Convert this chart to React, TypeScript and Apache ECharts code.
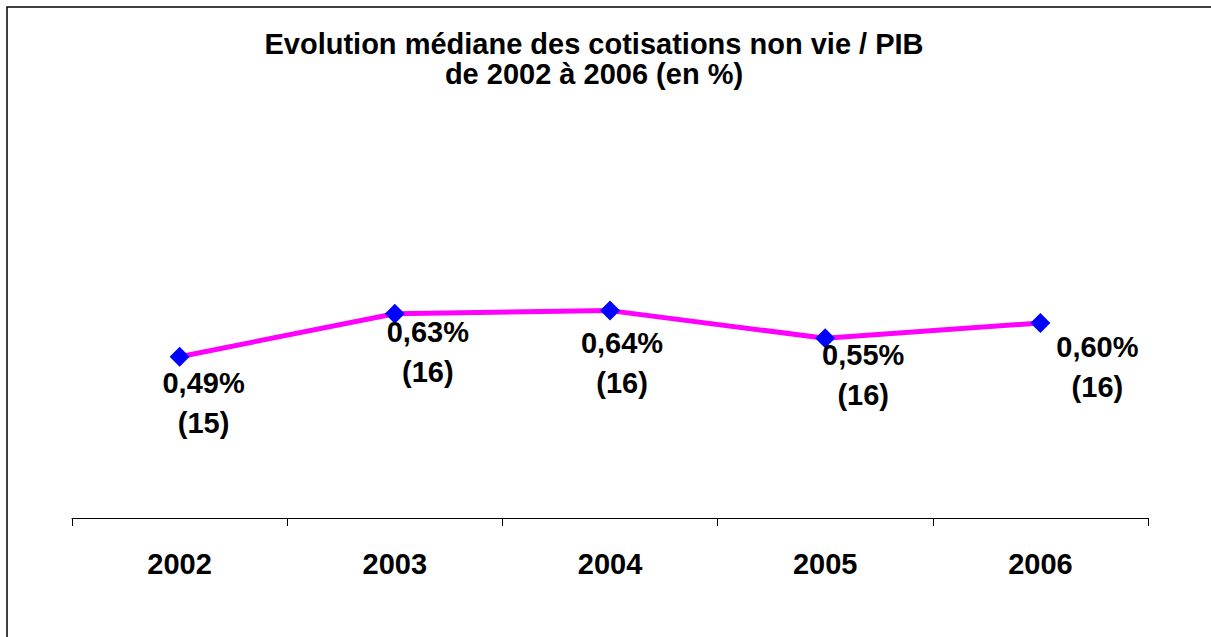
import React, { useEffect, useRef } from "react";
import * as echarts from "echarts";

const titleLines = ["Evolution médiane des cotisations non vie / PIB", "de 2002 à 2006 (en %)"];
const years = ["2002", "2003", "2004", "2005", "2006"];
const values = [0.49, 0.63, 0.64, 0.55, 0.6];
const counts = [15, 16, 16, 16, 16];
const labelOffsets = [
  [24, 46],
  [33, 38],
  [12, 52],
  [38, 37],
  [57, 44],
];

const FONT = "'Liberation Sans', Arial, Helvetica, sans-serif";

export default function App() {
  const ref = useRef<HTMLDivElement>(null);
  useEffect(() => {
    if (!ref.current) return;
    const chart = echarts.init(ref.current, null, { renderer: "svg" });
    chart.setOption({
      animation: false,
      backgroundColor: "#ffffff",
      title: {
        text: titleLines.join("\n"),
        left: 589,
        top: 24,
        textAlign: "center",
        textStyle: {
          fontFamily: FONT,
          fontWeight: "bold",
          fontSize: 29,
          lineHeight: 30,
          color: "#000",
        },
      },
      graphic: [
        {
          type: "rect",
          shape: { x: 7, y: 7, width: 1300, height: 700 },
          style: { fill: "none", stroke: "#000", lineWidth: 1.5 },
          silent: true,
        },
      ],
      grid: { left: 72, right: 63, top: 200, bottom: 119 },
      xAxis: {
        type: "category",
        data: years,
        boundaryGap: true,
        axisLine: { onZero: false, lineStyle: { color: "#000", width: 1 } },
        axisTick: { show: true, length: 8, lineStyle: { color: "#000" } },
        axisLabel: {
          fontFamily: FONT,
          fontWeight: "bold",
          fontSize: 29,
          color: "#000",
          margin: 31,
        },
      },
      yAxis: {
        type: "value",
        min: -0.035,
        max: 1.0,
        show: false,
        splitLine: { show: false },
      },
      series: [
        {
          type: "line",
          data: values.map((v, i) => ({
            value: v,
            label: { offset: labelOffsets[i] },
          })),
          lineStyle: { color: "#ff00ff", width: 5 },
          itemStyle: { color: "#0000ff" },
          symbol: "diamond",
          symbolSize: 20,
          showAllSymbol: true,
          label: {
            show: true,
            position: "inside",
            fontFamily: FONT,
            fontWeight: "bold",
            fontSize: 29,
            lineHeight: 40,
            color: "#000",
            align: "center",
            verticalAlign: "middle",
            formatter: (p: any) =>
              values[p.dataIndex].toFixed(2).replace(".", ",") + "%\n(" + counts[p.dataIndex] + ")",
          },
        },
      ],
    });
    return () => chart.dispose();
  }, []);
  return (
    <div
      ref={ref}
      style={{ position: "fixed", left: 0, top: 0, width: 1211, height: 637, background: "#fff" }}
    />
  );
}
